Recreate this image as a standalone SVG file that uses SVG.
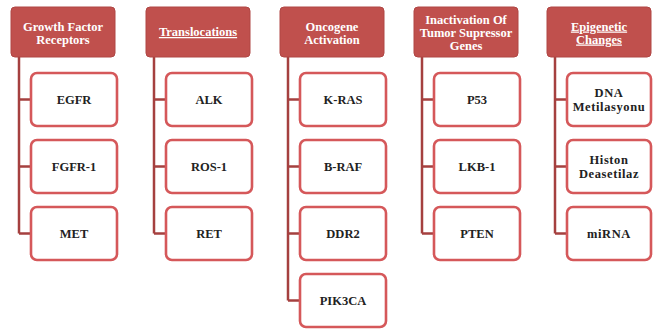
<svg xmlns="http://www.w3.org/2000/svg" width="656" height="329" viewBox="0 0 656 329">
<style>
.hdr{fill:#c0504d;stroke:#b04644;stroke-width:1}
.box{fill:#ffffff;stroke:#d5585a;stroke-width:2.6}
.ht{font-family:"Liberation Serif",serif;font-weight:bold;font-size:12.5px;fill:#ffffff;text-anchor:middle}
.ct{font-family:"Liberation Serif",serif;font-weight:bold;font-size:12.5px;fill:#222222;text-anchor:middle}
.w{letter-spacing:0.6px}
.u{text-decoration:underline}
.con{fill:none;stroke:#a5403f;stroke-width:2.5}
</style>
<rect width="656" height="329" fill="#ffffff"/>
<g id="connectors">
<path class="con" d="M19 57V233.5M19 99.5H30M19 166.5H30M19 233.5H30"/>
<path class="con" d="M154 57V233.5M154 99.5H165M154 166.5H165M154 233.5H165"/>
<path class="con" d="M288 57V300.5M288 99.5H299M288 166.5H299M288 233.5H299M288 300.5H299"/>
<path class="con" d="M422 57V233.5M422 99.5H433M422 166.5H433M422 233.5H433"/>
<path class="con" d="M555 57V233.5M555 99.5H566M555 166.5H566M555 233.5H566"/>
</g>
<g id="h1"><rect class="hdr" x="11" y="7" width="104" height="50" rx="4"/>
<text class="ht" x="63" y="30.5">Growth Factor</text><text class="ht" x="63" y="43.5">Receptors</text></g>
<g id="h2"><rect class="hdr" x="146" y="7" width="104" height="50" rx="4"/>
<text class="ht u" x="198" y="36">Translocations</text></g>
<g id="h3"><rect class="hdr" x="280" y="7" width="104" height="50" rx="4"/>
<text class="ht" x="332" y="30.5">Oncogene</text><text class="ht" x="332" y="43.5">Activation</text></g>
<g id="h4"><rect class="hdr" x="414" y="7" width="104" height="50" rx="4"/>
<text class="ht" x="466" y="24">Inactivation Of</text><text class="ht" x="466" y="37">Tumor Supressor</text><text class="ht" x="466" y="50">Genes</text></g>
<g id="h5"><rect class="hdr" x="547" y="7" width="104" height="50" rx="4"/>
<text class="ht u" x="599" y="30.5">Epigenetic</text><text class="ht u" x="599" y="43.5">Changes</text></g>

<g id="egfr"><rect class="box" x="31" y="73" width="86" height="53" rx="6"/><text class="ct" x="74" y="104">EGFR</text></g>
<g id="fgfr1"><rect class="box" x="31" y="140" width="86" height="53" rx="6"/><text class="ct" x="74" y="171">FGFR-1</text></g>
<g id="met"><rect class="box" x="31" y="207" width="86" height="53" rx="6"/><text class="ct" x="74" y="238">MET</text></g>

<g id="alk"><rect class="box" x="166" y="73" width="86" height="53" rx="6"/><text class="ct" x="209" y="104">ALK</text></g>
<g id="ros1"><rect class="box" x="166" y="140" width="86" height="53" rx="6"/><text class="ct" x="209" y="171">ROS-1</text></g>
<g id="ret"><rect class="box" x="166" y="207" width="86" height="53" rx="6"/><text class="ct" x="209" y="238">RET</text></g>

<g id="kras"><rect class="box" x="300" y="73" width="86" height="53" rx="6"/><text class="ct" x="343" y="104">K-RAS</text></g>
<g id="braf"><rect class="box" x="300" y="140" width="86" height="53" rx="6"/><text class="ct" x="343" y="171">B-RAF</text></g>
<g id="ddr2"><rect class="box" x="300" y="207" width="86" height="53" rx="6"/><text class="ct" x="343" y="238">DDR2</text></g>
<g id="pik3ca"><rect class="box" x="300" y="274" width="86" height="53" rx="6"/><text class="ct" x="343" y="305">PIK3CA</text></g>

<g id="p53"><rect class="box" x="434" y="73" width="86" height="53" rx="6"/><text class="ct" x="477" y="104">P53</text></g>
<g id="lkb1"><rect class="box" x="434" y="140" width="86" height="53" rx="6"/><text class="ct" x="477" y="171">LKB-1</text></g>
<g id="pten"><rect class="box" x="434" y="207" width="86" height="53" rx="6"/><text class="ct" x="477" y="238">PTEN</text></g>

<g id="dna"><rect class="box" x="567" y="73" width="84" height="53" rx="6"/><text class="ct w" x="609" y="96.5">DNA</text><text class="ct w" x="609" y="111">Metilasyonu</text></g>
<g id="histon"><rect class="box" x="567" y="140" width="84" height="53" rx="6"/><text class="ct w" x="609" y="163.5">Histon</text><text class="ct w" x="609" y="178">Deasetilaz</text></g>
<g id="mirna"><rect class="box" x="567" y="207" width="84" height="53" rx="6"/><text class="ct w" x="609" y="238">miRNA</text></g>
</svg>
